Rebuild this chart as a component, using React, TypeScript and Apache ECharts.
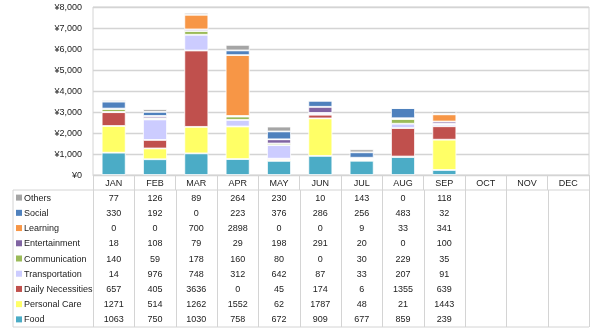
import React, { useEffect, useRef } from "react";
import * as echarts from "echarts";

const months = ["JAN", "FEB", "MAR", "APR", "MAY", "JUN", "JUL", "AUG", "SEP", "OCT", "NOV", "DEC"];
const food = [1063, 750, 1030, 758, 672, 909, 677, 859, 239, null, null, null];
const personalCare = [1271, 514, 1262, 1552, 62, 1787, 48, 21, 1443, null, null, null];
const dailyNecessities = [657, 405, 3636, 0, 45, 174, 6, 1355, 639, null, null, null];
const transportation = [14, 976, 748, 312, 642, 87, 33, 207, 91, null, null, null];
const communication = [140, 59, 178, 160, 80, 0, 30, 229, 35, null, null, null];
const entertainment = [18, 108, 79, 29, 198, 291, 20, 0, 100, null, null, null];
const learning = [0, 0, 700, 2898, 0, 0, 9, 33, 341, null, null, null];
const social = [330, 192, 0, 223, 376, 286, 256, 483, 32, null, null, null];
const others = [77, 126, 89, 264, 230, 10, 143, 0, 118, null, null, null];
const yTicks = [0, 1000, 2000, 3000, 4000, 5000, 6000, 7000, 8000];

// bottom-to-top stack order
const seriesDefs = [
  { name: "Food", data: food, color: "#4BACC6" },
  { name: "Personal Care", data: personalCare, color: "#FFFF66" },
  { name: "Daily Necessities", data: dailyNecessities, color: "#C0504D" },
  { name: "Transportation", data: transportation, color: "#CCCCFF" },
  { name: "Communication", data: communication, color: "#9BBB59" },
  { name: "Entertainment", data: entertainment, color: "#8064A2" },
  { name: "Learning", data: learning, color: "#F79646" },
  { name: "Social", data: social, color: "#4F81BD" },
  { name: "Others", data: others, color: "#A5A5A5" },
];

const FONT = "Liberation Sans, Arial, sans-serif";
const LINE = "#D4D4D4";
const TEXT = "#222";

export default function App() {
  const ref = useRef<HTMLDivElement>(null);
  useEffect(() => {
    if (!ref.current) return;
    const chart = echarts.init(ref.current, undefined, { renderer: "svg" });

    const plotL = 93, plotR = 589, plotT = 7, plotB = 175;
    const tableT = 190, tableB = 327, tableL = 13;
    const colW = (plotR - plotL) / months.length;
    const rowH = (tableB - tableT) / seriesDefs.length;

    const graphic: any[] = [];
    // table border lines
    graphic.push({ type: "line", shape: { x1: tableL, y1: tableT, x2: plotR, y2: tableT }, style: { stroke: LINE, lineWidth: 1 } });
    graphic.push({ type: "line", shape: { x1: tableL, y1: tableB, x2: plotR, y2: tableB }, style: { stroke: LINE, lineWidth: 1 } });
    graphic.push({ type: "line", shape: { x1: tableL, y1: tableT, x2: tableL, y2: tableB }, style: { stroke: LINE, lineWidth: 1 } });
    for (let i = 0; i <= months.length; i++) {
      const x = Math.round(plotL + i * colW) + 0.5;
      graphic.push({ type: "line", shape: { x1: x, y1: tableT, x2: x, y2: tableB }, style: { stroke: LINE, lineWidth: 1 } });
    }
    const rows = [...seriesDefs].reverse();
    rows.forEach((s, r) => {
      const cy = tableT + rowH * (r + 0.5);
      graphic.push({ type: "rect", shape: { x: 16, y: cy - 3, width: 6, height: 6 }, style: { fill: s.color } });
      graphic.push({
        type: "text",
        style: { text: s.name, x: 24, y: cy, font: `9px ${FONT}`, fill: TEXT, textAlign: "left", textVerticalAlign: "middle" },
      });
      s.data.forEach((v, c) => {
        if (v === null) return;
        graphic.push({
          type: "text",
          style: {
            text: String(v),
            x: plotL + colW * (c + 0.5),
            y: cy,
            font: `9px ${FONT}`,
            fill: TEXT,
            textAlign: "center",
            textVerticalAlign: "middle",
          },
        });
      });
    });

    chart.setOption({
      animation: false,
      textStyle: { fontFamily: FONT },
      grid: {
        left: plotL,
        right: 600 - plotR,
        top: plotT,
        bottom: 335 - plotB,
        show: true,
        borderColor: LINE,
        borderWidth: 1,
        backgroundColor: "transparent",
      },
      xAxis: {
        type: "category",
        data: months,
        axisLine: { lineStyle: { color: LINE } },
        axisTick: { show: true, length: 15, interval: 0, lineStyle: { color: LINE } },
        axisLabel: { color: TEXT, fontSize: 9, margin: 3, interval: 0, fontFamily: FONT },
      },
      yAxis: {
        type: "value",
        min: yTicks[0],
        max: yTicks[yTicks.length - 1],
        interval: 1000,
        axisLine: { show: false },
        axisTick: { show: false },
        splitLine: { lineStyle: { color: LINE, width: 1.3 } },
        axisLabel: {
          color: TEXT,
          fontSize: 9,
          margin: 11,
          fontFamily: FONT,
          formatter: (v: number) => "¥" + v.toLocaleString("en-US"),
        },
      },
      series: seriesDefs.map((s) => ({
        name: s.name,
        type: "bar",
        stack: "total",
        barWidth: "58%",
        data: s.data,
        itemStyle: { color: s.color, borderColor: "#ffffff", borderWidth: 0.8 },
      })),
      graphic,
    });
    return () => chart.dispose();
  }, []);
  return <div ref={ref} style={{ position: "fixed", left: 0, top: 0, width: 600, height: 335 }} />;
}
